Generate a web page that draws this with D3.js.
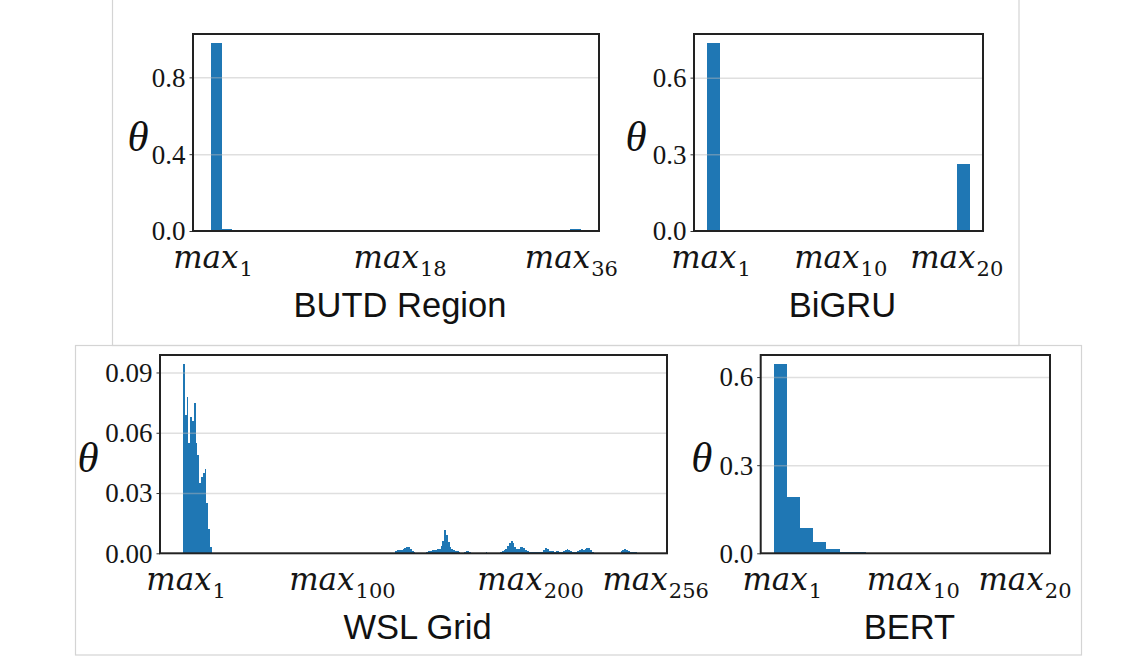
<!DOCTYPE html>
<html>
<head>
<meta charset="utf-8">
<script src="https://cdn.jsdelivr.net/npm/d3@7"></script>
<style>
  body { margin: 0; background: #fff; }
  svg { display: block; }
</style>
</head>
<body>
<svg id="chart" width="1128" height="659"></svg>
<script>
// theta weights per max-position
var butdValues = [0.977, 0.010, 0, 0, 0, 0, 0, 0, 0, 0, 0, 0, 0, 0, 0, 0, 0, 0,
                  0, 0, 0, 0, 0, 0, 0, 0, 0, 0, 0, 0, 0, 0, 0, 0, 0, 0.013];
var bigruValues = [0.734, 0, 0, 0, 0, 0, 0, 0, 0, 0, 0, 0, 0, 0, 0, 0, 0, 0, 0, 0.264];
var bertValues = [0.643, 0.190, 0.085, 0.038, 0.0136, 0.006, 0.003, 0.002, 0.001, 0.0005,
                  0, 0, 0, 0, 0, 0, 0, 0, 0, 0];
var wslValues = [
  0.094, 0.069, 0.078, 0.055, 0.068, 0.066, 0.075, 0.055, 0.049, 0.035, 0.038, 0.040, 0.042, 0.025, 0.012, 0.003,
  0, 0, 0, 0, 0, 0, 0, 0, 0, 0, 0, 0, 0, 0, 0, 0,
  0, 0, 0, 0, 0, 0, 0, 0, 0, 0, 0, 0, 0, 0, 0, 0,
  0, 0, 0, 0, 0, 0, 0, 0, 0, 0, 0, 0, 0, 0, 0, 0,
  0, 0, 0, 0, 0, 0, 0, 0, 0, 0, 0, 0, 0, 0, 0, 0,
  0, 0, 0, 0, 0, 0, 0, 0, 0, 0, 0, 0, 0, 0, 0, 0,
  0, 0, 0, 0, 0, 0, 0, 0, 0, 0, 0, 0, 0, 0, 0, 0,
  0, 0, 0, 0, 0, 0, 0.001, 0.0015, 0.0015, 0.0015, 0.002, 0.0025, 0.003, 0.0033, 0.002, 0.001,
  0.0004, 0.0003, 0, 0, 0, 0, 0, 0.0005, 0.001, 0.0012, 0.0015, 0.0015, 0.0018, 0.002, 0.002, 0.0037,
  0.006, 0.0115, 0.009, 0.0055, 0.003, 0.002, 0.0015, 0.001, 0.001, 0.0008, 0.0003, 0, 0.0008, 0.0013, 0.0013, 0.0008,
  0.0003, 0, 0, 0, 0, 0, 0, 0.0003, 0.0008, 0.0003, 0, 0, 0, 0, 0, 0.0003,
  0.0006, 0.001, 0.0015, 0.002, 0.0035, 0.005, 0.0061, 0.005, 0.003, 0.002, 0.002, 0.003, 0.0033, 0.0025, 0.0015, 0.001,
  0.0008, 0.0008, 0.0008, 0.0008, 0.0006, 0.0004, 0.0004, 0.0008, 0.0015, 0.0025, 0.002, 0.001, 0.001, 0.001, 0.0008, 0.001,
  0.001, 0.0008, 0.0006, 0.001, 0.0018, 0.002, 0.0018, 0.001, 0.0008, 0.0008, 0.0008, 0.001, 0.0018, 0.002, 0.0018, 0.002,
  0.0025, 0.0025, 0.0015, 0.0008, 0.0003, 0, 0, 0, 0, 0, 0, 0, 0, 0, 0, 0,
  0, 0, 0, 0.001, 0.0018, 0.0023, 0.0015, 0.001, 0.0008, 0.0008, 0.0006, 0.0004, 0, 0, 0, 0
];

// y ticks
var butdYTicks = [0, 0.4, 0.8];
var bigruYTicks = [0, 0.3, 0.6];
var wslYTicks = [0, 0.03, 0.06, 0.09];
var bertYTicks = [0, 0.3, 0.6];

// x tick labels (subscripts) and where they sit on the bar index axis
var butdXLabels = ["1", "18", "36"];
var butdXPos = [0.65, 18.9, 35.6];
var bigruXLabels = ["1", "10", "20"];
var bigruXPos = [0.8, 10.67, 19.5];
var wslXLabels = ["1", "100", "200", "256"];
var wslXPos = [2.2, 89, 193.5, 263];
var bertXLabels = ["1", "10", "20"];
var bertXPos = [1.14, 11.1, 19.6];

var svg = d3.select("#chart");
var barColor = "#1f77b4";

// light figure frames around the two rows
svg.append("rect")
    .attr("x", 112.5).attr("y", -2).attr("width", 906.5).attr("height", 347.5)
    .attr("fill", "none").attr("stroke", "#d4d4d4").attr("stroke-width", 1.2);
svg.append("rect")
    .attr("x", 75.5).attr("y", 345.5).attr("width", 1006).attr("height", 309.5)
    .attr("fill", "none").attr("stroke", "#d4d4d4").attr("stroke-width", 1.2);

function panel(opt) {
    var n = opt.values.length,
        w = opt.x1 - opt.x0,
        h = opt.y1 - opt.y0;

    var x = d3.scaleLinear()
        .domain([0.5 - 0.05 * n, n + 0.5 + 0.05 * n])
        .range([0, w]);
    var y = d3.scaleLinear()
        .domain([0, d3.max(opt.values) * 1.05])
        .range([h, 0]);

    var g = svg.append("g").attr("transform", "translate(" + opt.x0 + "," + opt.y0 + ")");

    g.selectAll("rect.bar")
        .data(opt.values)
        .enter().append("rect")
        .attr("class", "bar")
        .attr("x", function(d, i) { return x(i + 0.5); })
        .attr("width", function(d, i) { return x(i + 1.5) - x(i + 0.5); })
        .attr("y", function(d) { return y(d); })
        .attr("height", function(d) { return h - y(d); })
        .attr("fill", barColor)
        .attr("shape-rendering", "crispEdges");

    // grid sits over the bars, faint
    g.append("g")
        .call(d3.axisLeft(y).tickValues(opt.yTicks.slice(1)).tickSize(-w).tickFormat(""))
        .call(function(s) {
            s.select(".domain").remove();
            s.selectAll("line").attr("stroke", "#b8b8b8").attr("stroke-opacity", 0.45).attr("stroke-width", 1.5);
        });

    // y axis labels
    g.append("g")
        .call(d3.axisLeft(y).tickValues(opt.yTicks).tickSize(3.5).tickPadding(4).tickFormat(d3.format(opt.fmt)))
        .call(function(s) {
            s.select(".domain").remove();
            s.selectAll("line").attr("stroke", "#333");
            s.selectAll("text")
                .attr("font-family", "'Liberation Serif', 'Times New Roman', serif")
                .attr("font-size", 27)
                .attr("fill", "#151515")
                .attr("dy", "0.33em");
        });

    // x labels: italic max with a subscript index
    var xl = g.selectAll("text.xl")
        .data(opt.xLabels)
        .enter().append("text")
        .attr("class", "xl")
        .attr("x", function(d, i) { return x(opt.xPos[i]); })
        .attr("y", h + 37)
        .attr("text-anchor", "middle")
        .attr("fill", "#151515");
    xl.append("tspan")
        .attr("font-family", "'DejaVu Serif', serif")
        .attr("font-style", "italic")
        .attr("font-size", 31)
        .text("max");
    xl.append("tspan")
        .attr("font-family", "'DejaVu Serif', serif")
        .attr("font-size", 21)
        .attr("dy", 8)
        .attr("dx", 1)
        .text(function(d) { return d; });

    // frame
    g.append("rect")
        .attr("width", w).attr("height", h)
        .attr("fill", "none").attr("stroke", "#222").attr("stroke-width", 2);

    // theta label
    g.append("text")
        .attr("x", opt.thetaX)
        .attr("y", h / 2 + 18)
        .attr("text-anchor", "middle")
        .attr("font-family", "'Liberation Serif', 'Times New Roman', serif")
        .attr("font-style", "italic")
        .attr("font-size", 43)
        .attr("fill", "#111")
        .text("θ");

    // title
    g.append("text")
        .attr("x", w / 2 + 4)
        .attr("y", h + 86)
        .attr("text-anchor", "middle")
        .attr("font-family", "'Liberation Sans', Arial, sans-serif")
        .attr("font-size", 34.5)
        .attr("fill", "#111")
        .text(opt.title);
}

panel({ values: butdValues, yTicks: butdYTicks, fmt: ".1f", xLabels: butdXLabels, xPos: butdXPos,
        title: "BUTD Region", x0: 193, x1: 599, y0: 34, y1: 231, thetaX: -55 });
panel({ values: bigruValues, yTicks: bigruYTicks, fmt: ".1f", xLabels: bigruXLabels, xPos: bigruXPos,
        title: "BiGRU", x0: 694, x1: 983, y0: 34, y1: 231, thetaX: -58 });
panel({ values: wslValues, yTicks: wslYTicks, fmt: ".2f", xLabels: wslXLabels, xPos: wslXPos,
        title: "WSL Grid", x0: 160, x1: 667, y0: 355, y1: 553.3, thetaX: -72 });
panel({ values: bertValues, yTicks: bertYTicks, fmt: ".1f", xLabels: bertXLabels, xPos: bertXPos,
        title: "BERT", x0: 760.7, x1: 1050, y0: 355, y1: 553.3, thetaX: -59 });
</script>
</body>
</html>
